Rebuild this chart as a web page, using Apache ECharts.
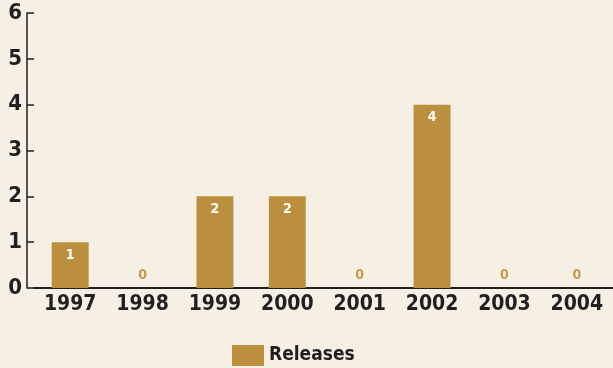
<!DOCTYPE html>
<html>
<head>
<meta charset="utf-8">
<script src="https://cdn.jsdelivr.net/npm/echarts@6/dist/echarts.min.js"></script>
<style>
  html,body{margin:0;padding:0;background:#f5efe4;}
  #chart{width:613px;height:368px;}
</style>
</head>
<body>
<div id="chart"></div>
<script>
var years = ['1997','1998','1999','2000','2001','2002','2003','2004'];
var releases = [1, 0, 2, 2, 0, 4, 0, 0];
var seriesName = 'Releases';

var FONT = "'Liberation Sans Narrow', 'DejaVu Sans Condensed', 'Liberation Sans', sans-serif";
var GOLD = '#bc8f3e';
var INK = '#231f20';

var barData = releases.map(function (v) {
  if (v === 0) {
    return {value: v, label: {position: 'top', distance: 6, color: '#c79a4c'}};
  }
  return v;
});

var chart = echarts.init(document.getElementById('chart'));
var option = {
  backgroundColor: '#f5efe4',
  textStyle: {fontFamily: FONT},
  grid: {left: 34, right: 0, top: 13, bottom: 80},
  legend: {
    data: [{name: seriesName, icon: 'rect'}],
    top: 340,
    left: 227,
    itemWidth: 32,
    itemHeight: 21,
    itemGap: 8,
    textStyle: {fontFamily: FONT, fontSize: 19, fontWeight: 'bold', color: INK}
  },
  xAxis: {
    type: 'category',
    data: years,
    axisLine: {lineStyle: {color: INK, width: 2}},
    axisTick: {show: false},
    axisLabel: {fontFamily: FONT, fontSize: 21, fontWeight: 'bold', color: INK, margin: 6}
  },
  yAxis: {
    type: 'value',
    min: 0,
    max: 6,
    interval: 1,
    offset: 7,
    axisLine: {show: true, lineStyle: {color: INK, width: 1.5}},
    axisTick: {show: true, inside: true, length: 7, lineStyle: {color: INK, width: 1.5}},
    splitLine: {show: false},
    axisLabel: {fontFamily: FONT, fontSize: 22, fontWeight: 'bold', color: INK, margin: 5}
  },
  series: [{
    name: seriesName,
    type: 'bar',
    data: barData,
    barWidth: '51%',
    itemStyle: {color: GOLD},
    label: {
      show: true,
      position: 'insideTop',
      distance: 6,
      color: '#ffffff',
      fontFamily: FONT,
      fontSize: 14,
      fontWeight: 'bold'
    }
  }]
};
chart.setOption(option);
</script>
</body>
</html>
